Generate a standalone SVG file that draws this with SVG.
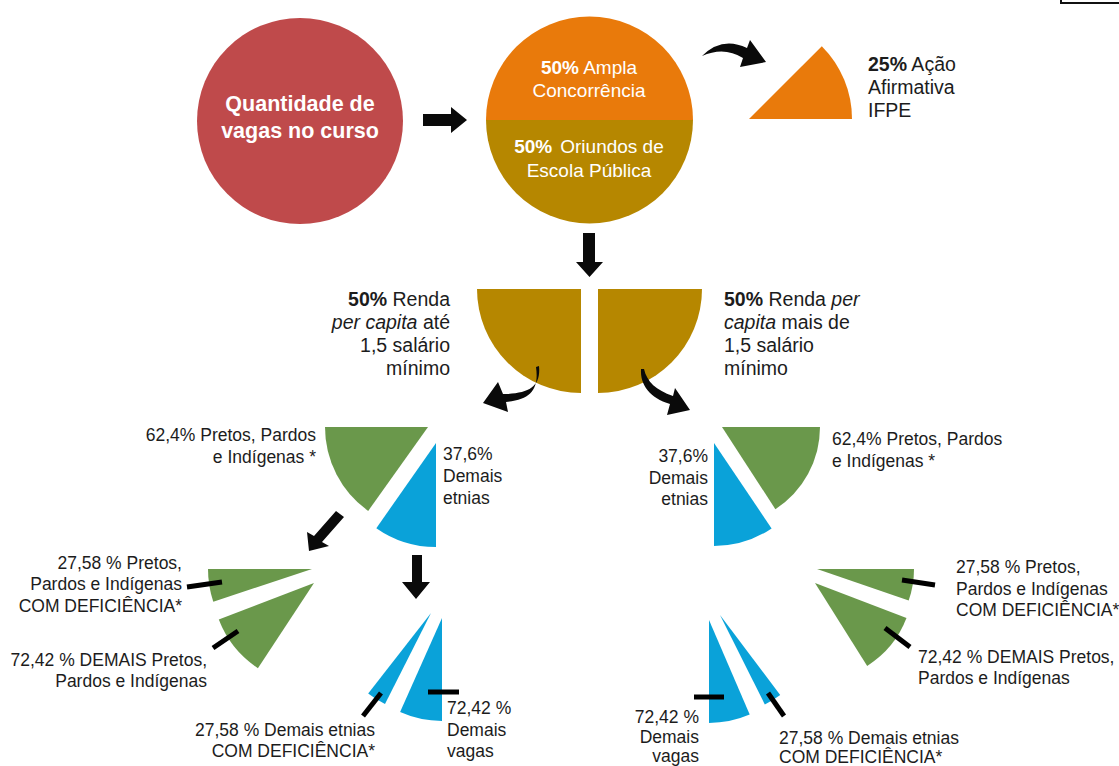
<svg xmlns="http://www.w3.org/2000/svg" width="1119" height="766" viewBox="0 0 1119 766">
<style>
.t{font-family:"Liberation Sans",Arial,sans-serif;fill:#1c1c1c}
.s{font-size:17.5px}
.m{font-size:19.5px}
.w{font-family:"Liberation Sans",Arial,sans-serif;fill:#ffffff;font-size:19px}
.b{font-weight:bold}
.red{fill:#BF4A4B}
.org{fill:#E97A0B}
.gold{fill:#B68700}
.grn{fill:#6A984B}
.blu{fill:#0AA2D9}
.arr{fill:#0a0a0a}
.mk{stroke:#000;stroke-width:5;fill:none}
</style>
<rect width="1119" height="766" fill="#ffffff"/>
<path d="M1061,0 V3 H1119" stroke="#111" stroke-width="2" fill="none"/>

<g id="node-vagas">
<circle class="red" cx="300" cy="121" r="103"/>
<text class="w b" x="300" y="111" text-anchor="middle" style="font-size:21.5px">Quantidade de</text>
<text class="w b" x="300" y="138" text-anchor="middle" style="font-size:21.5px">vagas no curso</text>
</g>

<g id="node-split">
<path class="org" d="M486,120 A103.5,103.5 0 0 1 693,120 Z"/>
<path class="gold" d="M486,120 A103.5,103.5 0 0 0 693,120 Z"/>
<text class="w" x="589" y="74" text-anchor="middle"><tspan class="b">50%</tspan> Ampla</text>
<text class="w" x="589" y="97" text-anchor="middle">Concorrência</text>
<text class="w" x="589" y="153" text-anchor="middle"><tspan class="b">50%</tspan><tspan dx="8">Oriundos de</tspan></text>
<text class="w" x="589" y="177" text-anchor="middle">Escola Pública</text>
</g>

<g id="node-acao">
<path class="org" d="M749,119 L821.8,46.2 A103,103 0 0 1 852,119 Z"/>
<text class="t m" x="868" y="71"><tspan class="b">25%</tspan> Ação</text>
<text class="t m" x="868" y="94">Afirmativa</text>
<text class="t m" x="868" y="117">IFPE</text>
</g>

<g id="node-renda-ate">
<path class="gold" d="M581,289 L477,289 A104,104 0 0 0 581,393 Z"/>
<text class="t m" x="450" y="306" text-anchor="end"><tspan class="b">50%</tspan> Renda</text>
<text class="t m" x="450" y="329" text-anchor="end"><tspan font-style="italic">per capita</tspan> até</text>
<text class="t m" x="450" y="352" text-anchor="end">1,5 salário</text>
<text class="t m" x="450" y="375" text-anchor="end">mínimo</text>
</g>

<g id="node-renda-mais">
<path class="gold" d="M598,289 L702,289 A104,104 0 0 1 598,393 Z"/>
<text class="t m" x="724" y="306"><tspan class="b">50%</tspan> Renda <tspan font-style="italic">per</tspan></text>
<text class="t m" x="724" y="329"><tspan font-style="italic">capita</tspan> mais de</text>
<text class="t m" x="724" y="352">1,5 salário</text>
<text class="t m" x="724" y="375">mínimo</text>
</g>

<g id="node-L-ppi">
<path class="grn" d="M428,427 L325,427 A103,103 0 0 0 368.2,510.9 Z"/>
<text class="t s" x="316" y="441" text-anchor="end">62,4% Pretos, Pardos</text>
<text class="t s" x="316" y="463" text-anchor="end">e Indígenas *</text>
</g>
<g id="node-L-demais">
<path class="blu" d="M436,443 L376.3,528.2 A104,104 0 0 0 436,547 Z"/>
<text class="t s" x="443" y="460">37,6%</text>
<text class="t s" x="443" y="482">Demais</text>
<text class="t s" x="443" y="504">etnias</text>
</g>

<g id="node-R-ppi">
<path class="grn" d="M722,427 L820,427 A98,98 0 0 1 775.4,509.2 Z"/>
<text class="t s" x="832" y="445">62,4% Pretos, Pardos</text>
<text class="t s" x="832" y="467">e Indígenas *</text>
</g>
<g id="node-R-demais">
<path class="blu" d="M714,443 L771.6,528.4 A103,103 0 0 1 714,546 Z"/>
<text class="t s" x="708" y="462" text-anchor="end">37,6%</text>
<text class="t s" x="708" y="484" text-anchor="end">Demais</text>
<text class="t s" x="708" y="505" text-anchor="end">etnias</text>
</g>

<g id="node-L-ppi-def">
<path class="grn" d="M312,569 L208,569 A104,104 0 0 0 213.3,601.8 Z"/>
<text class="t s" x="182" y="569" text-anchor="end">27,58 % Pretos,</text>
<text class="t s" x="182" y="590" text-anchor="end">Pardos e Indígenas</text>
<text class="t s" x="182" y="612" text-anchor="end">COM DEFICIÊNCIA*</text>
</g>
<g id="node-L-ppi-demais">
<path class="grn" d="M314,583 L218.8,619.6 A102,102 0 0 0 257.9,668.2 Z"/>
<text class="t s" x="207" y="666" text-anchor="end">72,42 % DEMAIS Pretos,</text>
<text class="t s" x="207" y="687" text-anchor="end">Pardos e Indígenas</text>
</g>
<g id="node-L-et-def">
<path class="blu" d="M431,613 L368.2,693.4 A102,102 0 0 0 385,704 Z"/>
<text class="t s" x="375" y="736" text-anchor="end">27,58 % Demais etnias</text>
<text class="t s" x="375" y="757" text-anchor="end">COM DEFICIÊNCIA*</text>
</g>
<g id="node-L-et-demais">
<path class="blu" d="M442,618 L400.1,712.1 A103,103 0 0 0 442,721 Z"/>
<text class="t s" x="447" y="714">72,42 %</text>
<text class="t s" x="447" y="736">Demais</text>
<text class="t s" x="447" y="757">vagas</text>
</g>

<g id="node-R-ppi-def">
<path class="grn" d="M817,569 L914,569 A97,97 0 0 1 908.7,600.6 Z"/>
<text class="t s" x="956" y="573">27,58 % Pretos,</text>
<text class="t s" x="956" y="595">Pardos e Indígenas</text>
<text class="t s" x="956" y="616">COM DEFICIÊNCIA*</text>
</g>
<g id="node-R-ppi-demais">
<path class="grn" d="M815,583 L906.5,618.1 A98,98 0 0 1 867.2,665.9 Z"/>
<text class="t s" x="918" y="663">72,42 % DEMAIS Pretos,</text>
<text class="t s" x="918" y="684">Pardos e Indígenas</text>
</g>
<g id="node-R-et-demais">
<path class="blu" d="M709,620 L749.7,714.6 A103,103 0 0 1 709,723 Z"/>
<text class="t s" x="699" y="723" text-anchor="end">72,42 %</text>
<text class="t s" x="699" y="743" text-anchor="end">Demais</text>
<text class="t s" x="699" y="762" text-anchor="end">vagas</text>
</g>
<g id="node-R-et-def">
<path class="blu" d="M720,615 L780.2,694.9 A100,100 0 0 1 764.8,704.4 Z"/>
<text class="t s" x="779" y="744">27,58 % Demais etnias</text>
<text class="t s" x="779" y="763">COM DEFICIÊNCIA*</text>
</g>

<g id="connectors">
<polygon class="arr" points="423,114 451,114 451,107 467,120 451,133 451,126 423,126"/>
<path class="arr" d="M702,56 Q722,36 747,48 L750,40 L766,62 L740,67 L743,58 Q724,46 702,56 Z"/>
<polygon class="arr" points="583,233 595,233 595,262 603,262 589.5,277 576,262 583,262"/>
<path class="arr" d="M539,366 C541,386 530,394 503,394 L498,382 L483,403 L508,412 L506,402 C532,400 539,388 536,367 Z"/>
<path class="arr" d="M641,369 C640,385 650,398 670,404 L667,415 L690,410 L675,388 L673,396 C656,390 647,382 644,369 Z"/>
<polygon class="arr" points="336,511 344,517 322,542 329,546 309,551 307,532 314,536"/>
<polygon class="arr" points="412,555 422,555 422,582 430,582 416,599 402,582 412,582"/>
<line class="mk" x1="187" y1="587" x2="222" y2="582"/>
<line class="mk" x1="213" y1="648" x2="238" y2="631"/>
<line class="mk" x1="363" y1="716" x2="381" y2="693"/>
<line class="mk" x1="428" y1="692" x2="459" y2="692"/>
<line class="mk" x1="902" y1="580" x2="935" y2="585"/>
<line class="mk" x1="885" y1="628" x2="910" y2="647"/>
<line class="mk" x1="694" y1="697" x2="724" y2="697"/>
<line class="mk" x1="768" y1="693" x2="784" y2="716"/>
</g>
</svg>
